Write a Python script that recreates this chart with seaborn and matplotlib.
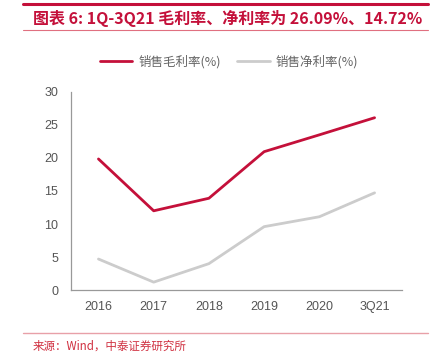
import matplotlib
matplotlib.use("Agg")
import matplotlib.pyplot as plt
import seaborn as sns
import pandas as pd
from matplotlib.ticker import FixedLocator, NullFormatter
from matplotlib.lines import Line2D

categories = ["2016", "2017", "2018", "2019", "2020", "3Q21"]
gross_margin = [19.85, 12.0, 13.9, 20.95, 23.5, 26.09]
net_margin = [4.7, 1.2, 4.0, 9.6, 11.1, 14.72]
series_names = ["销售毛利率(%)", "销售净利率(%)"]
yticks = [0, 5, 10, 15, 20, 25, 30]

sns.set_theme(style="white")
plt.rcParams['font.family'] = ['Noto Sans CJK SC', 'DejaVu Sans']

df = pd.DataFrame({
    "x": list(range(len(categories))) * 2,
    "value": gross_margin + net_margin,
    "series": [series_names[0]] * len(categories) + [series_names[1]] * len(categories),
})

red = "#C4103A"
gray = "#CCCCCC"

fig = plt.figure(figsize=(4.32, 3.59), dpi=100)
ax = fig.add_axes([0.164, 0.192, 0.767, 0.552])

sns.lineplot(data=df, x="x", y="value", hue="series",
             palette={series_names[0]: red, series_names[1]: gray},
             linewidth=2.0, ax=ax, legend=False)

ax.set_xlim(-0.5, len(categories) - 0.5)
ax.set_ylim(0, 30)
ax.set_xticks(range(len(categories)))
ax.set_xticklabels(categories)
ax.xaxis.set_minor_locator(FixedLocator([i - 0.5 for i in range(len(categories) + 1)]))
ax.xaxis.set_minor_formatter(NullFormatter())
ax.tick_params(axis="x", which="major", length=0, pad=8, labelsize=9, labelcolor="#555555")
ax.tick_params(axis="x", which="minor", length=4, width=0.8, color="#999999", direction="out")
ax.set_yticks(yticks)
ax.tick_params(axis="y", length=4, width=0.8, color="#999999", direction="out",
               labelsize=9, labelcolor="#555555", pad=5)
for lab in ax.get_xticklabels() + ax.get_yticklabels():
    lab.set_family(['Liberation Sans', 'DejaVu Sans'])
ax.set_xlabel("")
ax.set_ylabel("")
for s in ["top", "right"]:
    ax.spines[s].set_visible(False)
for s in ["left", "bottom"]:
    ax.spines[s].set_color("#999999")
    ax.spines[s].set_linewidth(0.9)

# legend
handles = [Line2D([0], [0], color=red, lw=2), Line2D([0], [0], color=gray, lw=2)]
fig.legend(handles, series_names, loc="center", bbox_to_anchor=(0.53, 0.828),
           ncol=2, frameon=False, fontsize=9, handlelength=2.6, columnspacing=1.3,
           labelcolor="#666666", handletextpad=0.5)

# title decoration
fig.add_artist(Line2D([0.053, 0.99], [0.988, 0.988], color=red, lw=2.2))
fig.text(0.076, 0.949, "图表 6: 1Q-3Q21 毛利率、净利率为 26.09%、14.72%",
         color=red, fontsize=11.5, fontweight="bold", style="italic", va="center", ha="left")
fig.add_artist(Line2D([0.053, 0.99], [0.916, 0.916], color="#E07080", lw=0.8))

# source
fig.add_artist(Line2D([0.053, 0.99], [0.072, 0.072], color="#E8A0A8", lw=1.0))
fig.text(0.076, 0.036, "来源：Wind，中泰证券研究所", color="#D03040", fontsize=8.3,
         va="center", ha="left")

fig.savefig("out.png", dpi=100)
